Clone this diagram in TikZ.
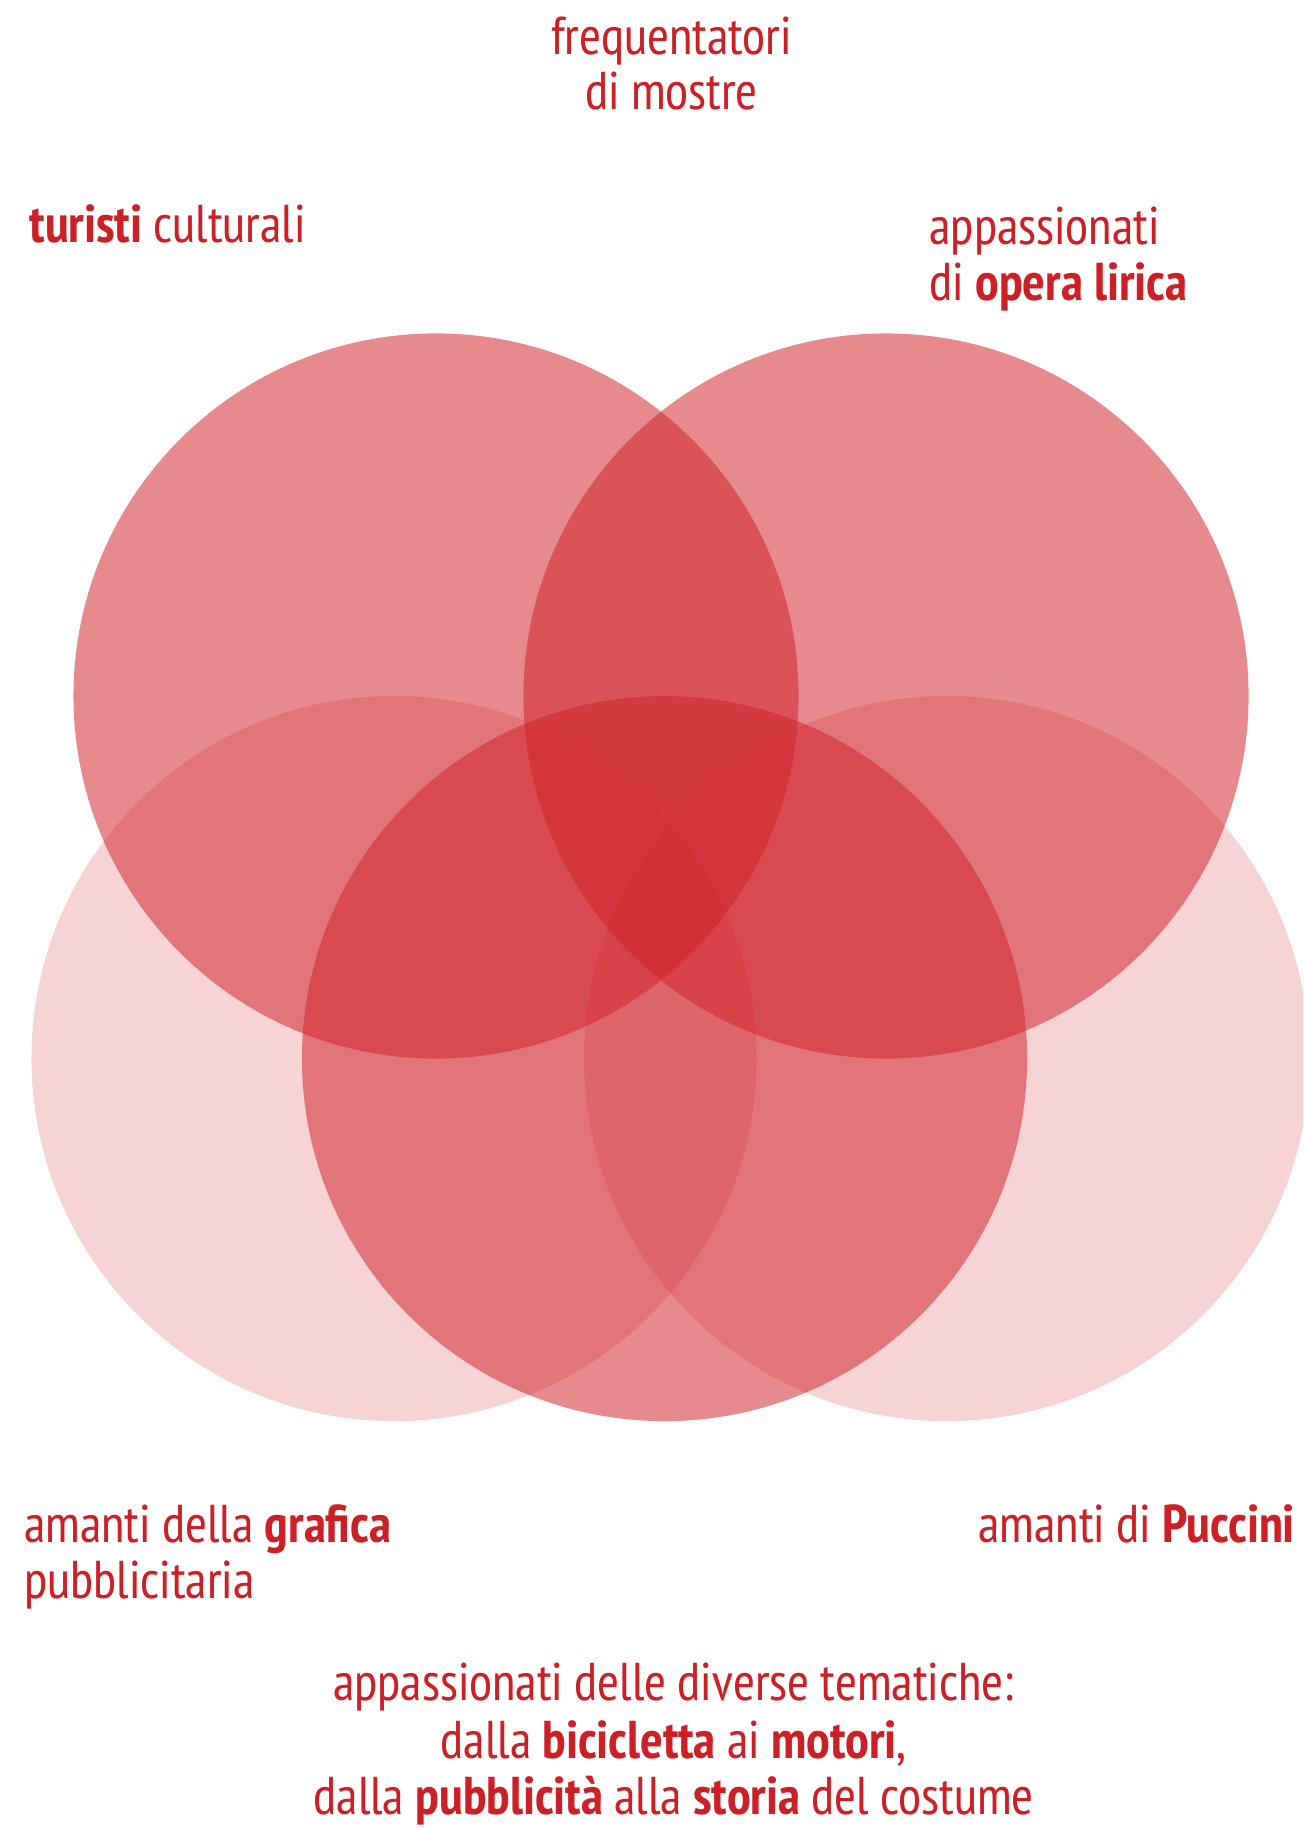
\documentclass[tikz,border=0pt]{standalone}
\usepackage{fontspec}
\setmainfont{PT Sans Narrow}
\begin{document}
\begin{tikzpicture}[x=0.58274pt,y=-0.58274pt]
\definecolor{venn}{RGB}{208,34,42}
\definecolor{txt}{RGB}{204,31,38}
\tikzset{
  strong/.style={circle,inner sep=0pt,minimum size=362.46pt,fill=venn,fill opacity=0.53},
  faint/.style={circle,inner sep=0pt,minimum size=362.46pt,fill=venn,fill opacity=0.2},
  lbl/.style={inner sep=0pt,text=txt,font=\fontsize{26.6}{28}\selectfont},
}
\useasboundingbox (0,0) rectangle (1118,1568);
\clip (0,0) rectangle (1118,1568);
% circles
\node[faint] (bl) at (338,908) {};
\node[faint] (br) at (812,908) {};
\node[strong] (bm) at (570,908) {};
\node[strong] (tl) at (374,597) {};
\node[strong] (tr) at (760,597) {};
% labels
\node[lbl,anchor=base] (m1) at (576,47) {frequentatori};
\node[lbl,anchor=base] (m2) at (576,94) {di mostre};
\node[lbl,anchor=base west] (t1) at (25,207.6) {\textbf{turisti} culturali};
\node[lbl,anchor=base west] (o1) at (797,210) {appassionati};
\node[lbl,anchor=base west] (o2) at (797,257.5) {di \textbf{opera lirica}};
\node[lbl,anchor=base west] (g1) at (20.6,1322.8) {amanti della \textbf{grafica}};
\node[lbl,anchor=base west] (g2) at (20.6,1371) {pubblicitaria};
\node[lbl,anchor=base east] (p1) at (1111,1322.8) {amanti di \textbf{Puccini}};
\node[lbl,anchor=base] (d1) at (578,1459) {appassionati delle diverse tematiche:};
\node[lbl,anchor=base] (d2) at (578,1508.5) {dalla \textbf{bicicletta} ai \textbf{motori},};
\node[lbl,anchor=base] (d3) at (578,1556.5) {dalla \textbf{pubblicità} alla \textbf{storia} del costume};
\end{tikzpicture}
\end{document}
